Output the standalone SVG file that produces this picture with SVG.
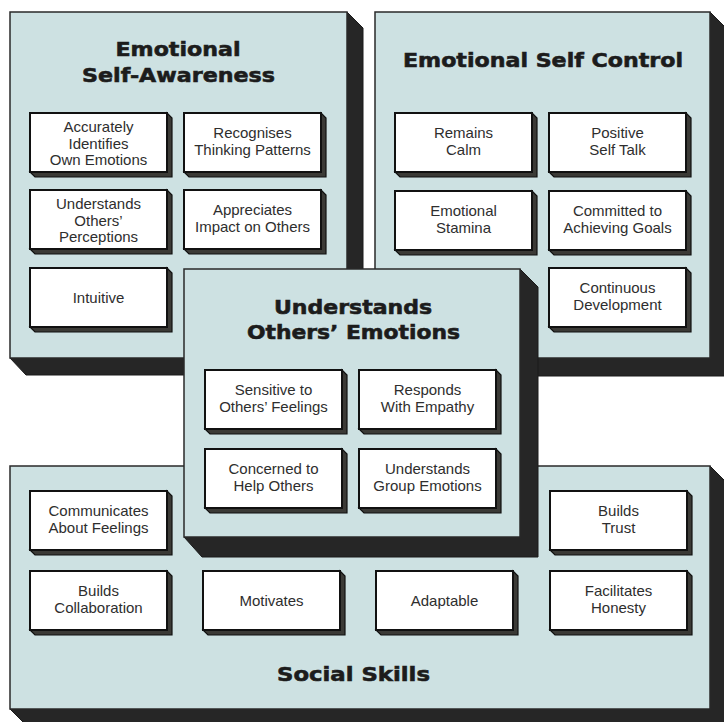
<svg xmlns="http://www.w3.org/2000/svg" xmlns:xlink="http://www.w3.org/1999/xlink" width="724" height="722" viewBox="0 0 724 722">
  <style>
    .panel { fill: #cde1e2; stroke: #2a2a2a; stroke-width: 1.5; }
    .pshadow { fill: #262626; stroke: #1a1a1a; stroke-width: 1; }
    .box { fill: #ffffff; stroke: #111111; stroke-width: 2; }
    .bshadow { fill: #3b3a36; stroke: #111111; stroke-width: 1.2; }
    .title { font-family: "DejaVu Sans", "Liberation Sans", sans-serif; font-weight: bold; font-size: 20px; fill: #1c1c1c; stroke: #1c1c1c; stroke-width: 0.6; text-anchor: middle; }
    .lbl { font-family: "Liberation Sans", Arial, sans-serif; font-size: 15px; fill: #2e2e2e; text-anchor: middle; }
  </style>
  <defs>
    <!-- white card with a dark extruded edge on the right and bottom -->
    <g id="card">
      <polygon class="bshadow" points="137,0 142,5 142,64 5,64 0,59 137,59"/>
      <rect class="box" x="0" y="0" width="137" height="59"/>
    </g>
  </defs>
  <rect width="724" height="722" fill="#ffffff"/>

  <!-- Social Skills (bottom layer) -->
  <g id="social-skills">
    <polygon class="pshadow" points="710,466 726,482 726,725 26,725 10,709 710,709"/>
    <rect class="panel" x="10" y="466" width="700" height="243"/>
    <text class="title" x="353.5" y="681" textLength="153" lengthAdjust="spacingAndGlyphs">Social Skills</text>
    <g id="communicates-about-feelings" transform="translate(30,491)">
      <use xlink:href="#card"/>
      <text class="lbl" x="68.5" y="25">Communicates</text>
      <text class="lbl" x="68.5" y="42">About Feelings</text>
    </g>
    <g id="builds-trust" transform="translate(550,491)">
      <use xlink:href="#card"/>
      <text class="lbl" x="68.5" y="25">Builds</text>
      <text class="lbl" x="68.5" y="42">Trust</text>
    </g>
    <g id="builds-collaboration" transform="translate(30,571)">
      <use xlink:href="#card"/>
      <text class="lbl" x="68.5" y="25">Builds</text>
      <text class="lbl" x="68.5" y="42">Collaboration</text>
    </g>
    <g id="motivates" transform="translate(203,571)">
      <use xlink:href="#card"/>
      <text class="lbl" x="68.5" y="35">Motivates</text>
    </g>
    <g id="adaptable" transform="translate(376,571)">
      <use xlink:href="#card"/>
      <text class="lbl" x="68.5" y="35">Adaptable</text>
    </g>
    <g id="facilitates-honesty" transform="translate(550,571)">
      <use xlink:href="#card"/>
      <text class="lbl" x="68.5" y="25">Facilitates</text>
      <text class="lbl" x="68.5" y="42">Honesty</text>
    </g>
  </g>

  <!-- Emotional Self-Awareness -->
  <g id="self-awareness">
    <polygon class="pshadow" points="347,12 363,28 363,375 26,375 10,358 347,358"/>
    <rect class="panel" x="10" y="12" width="337" height="346"/>
    <text class="title" x="178" y="56" textLength="125" lengthAdjust="spacingAndGlyphs">Emotional</text>
    <text class="title" x="178.5" y="82" textLength="193" lengthAdjust="spacingAndGlyphs">Self-Awareness</text>
    <g id="identifies-own-emotions" transform="translate(30,113)">
      <use xlink:href="#card"/>
      <text class="lbl" x="68.5" y="19">Accurately</text>
      <text class="lbl" x="68.5" y="35.5">Identifies</text>
      <text class="lbl" x="68.5" y="52">Own Emotions</text>
    </g>
    <g id="thinking-patterns" transform="translate(184,113)">
      <use xlink:href="#card"/>
      <text class="lbl" x="68.5" y="25">Recognises</text>
      <text class="lbl" x="68.5" y="42">Thinking Patterns</text>
    </g>
    <g id="others-perceptions" transform="translate(30,190)">
      <use xlink:href="#card"/>
      <text class="lbl" x="68.5" y="19">Understands</text>
      <text class="lbl" x="68.5" y="35.5">Others’</text>
      <text class="lbl" x="68.5" y="52">Perceptions</text>
    </g>
    <g id="impact-on-others" transform="translate(184,190)">
      <use xlink:href="#card"/>
      <text class="lbl" x="68.5" y="25">Appreciates</text>
      <text class="lbl" x="68.5" y="42">Impact on Others</text>
    </g>
    <g id="intuitive" transform="translate(30,268)">
      <use xlink:href="#card"/>
      <text class="lbl" x="68.5" y="35">Intuitive</text>
    </g>
  </g>

  <!-- Emotional Self Control -->
  <g id="self-control">
    <polygon class="pshadow" points="710,12 726,28 726,376 391,376 375,358 710,358"/>
    <rect class="panel" x="375" y="12" width="335" height="346"/>
    <text class="title" x="543" y="67" textLength="280" lengthAdjust="spacingAndGlyphs">Emotional Self Control</text>
    <g id="remains-calm" transform="translate(395,113)">
      <use xlink:href="#card"/>
      <text class="lbl" x="68.5" y="25">Remains</text>
      <text class="lbl" x="68.5" y="42">Calm</text>
    </g>
    <g id="positive-self-talk" transform="translate(549,113)">
      <use xlink:href="#card"/>
      <text class="lbl" x="68.5" y="25">Positive</text>
      <text class="lbl" x="68.5" y="42">Self Talk</text>
    </g>
    <g id="emotional-stamina" transform="translate(395,191)">
      <use xlink:href="#card"/>
      <text class="lbl" x="68.5" y="25">Emotional</text>
      <text class="lbl" x="68.5" y="42">Stamina</text>
    </g>
    <g id="achieving-goals" transform="translate(549,191)">
      <use xlink:href="#card"/>
      <text class="lbl" x="68.5" y="25">Committed to</text>
      <text class="lbl" x="68.5" y="42">Achieving Goals</text>
    </g>
    <g id="continuous-development" transform="translate(549,268)">
      <use xlink:href="#card"/>
      <text class="lbl" x="68.5" y="25">Continuous</text>
      <text class="lbl" x="68.5" y="42">Development</text>
    </g>
  </g>

  <!-- Understands Others' Emotions (top layer) -->
  <g id="others-emotions">
    <polygon class="pshadow" points="520,269 538,287 538,557 202,557 184,537 520,537"/>
    <rect class="panel" x="184" y="269" width="336" height="268"/>
    <text class="title" x="353" y="314" textLength="158" lengthAdjust="spacingAndGlyphs">Understands</text>
    <text class="title" x="353.5" y="339" textLength="213" lengthAdjust="spacingAndGlyphs">Others’ Emotions</text>
    <g id="sensitive-to-feelings" transform="translate(205,370)">
      <use xlink:href="#card"/>
      <text class="lbl" x="68.5" y="25">Sensitive to</text>
      <text class="lbl" x="68.5" y="42">Others’ Feelings</text>
    </g>
    <g id="responds-with-empathy" transform="translate(359,370)">
      <use xlink:href="#card"/>
      <text class="lbl" x="68.5" y="25">Responds</text>
      <text class="lbl" x="68.5" y="42">With Empathy</text>
    </g>
    <g id="help-others" transform="translate(205,449)">
      <use xlink:href="#card"/>
      <text class="lbl" x="68.5" y="25">Concerned to</text>
      <text class="lbl" x="68.5" y="42">Help Others</text>
    </g>
    <g id="group-emotions" transform="translate(359,449)">
      <use xlink:href="#card"/>
      <text class="lbl" x="68.5" y="25">Understands</text>
      <text class="lbl" x="68.5" y="42">Group Emotions</text>
    </g>
  </g>

  <!-- no connectors in this diagram -->
  <g id="connectors"/>
</svg>
